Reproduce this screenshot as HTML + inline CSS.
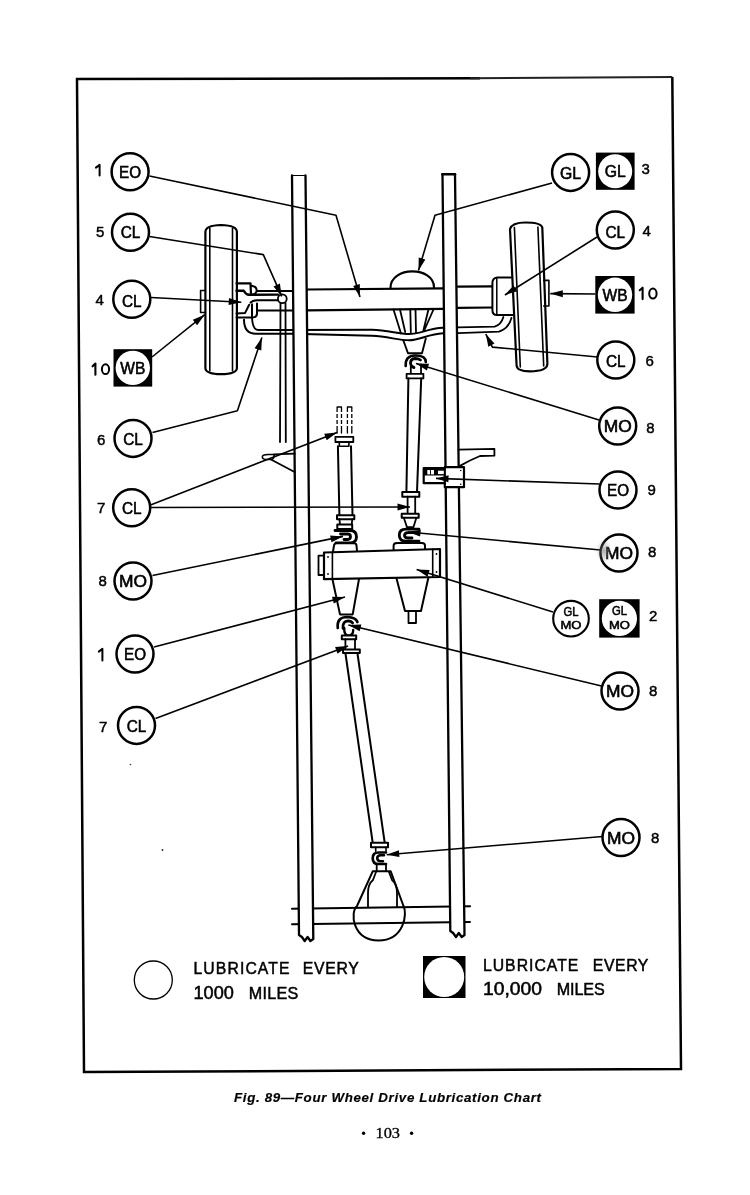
<!DOCTYPE html>
<html><head><meta charset="utf-8"><title>Four Wheel Drive Lubrication Chart</title>
<style>
html,body{margin:0;padding:0;background:#fff;}
body{width:750px;height:1195px;overflow:hidden;position:relative;}
svg{position:absolute;left:0;top:0;filter:grayscale(1);}
</style></head><body>
<svg width="750" height="1195" viewBox="0 0 750 1195" font-family="Liberation Sans, sans-serif">
<path d="M672.3,77 L681,1069 L84,1072 L77,79 L480,78.2" fill="none" stroke="#000" stroke-width="2.5"/>
<path d="M470,78.2 L672.3,77" fill="none" stroke="#222" stroke-width="2"/>
<text x="234" y="1101.5" font-size="13.3" font-weight="bold" font-style="italic" textLength="307" lengthAdjust="spacing" stroke="#000" stroke-width="0.2">Fig. 89—Four Wheel Drive Lubrication Chart</text>
<circle cx="363.6" cy="1133.2" r="1.7" fill="#000"/>
<text x="375.5" y="1138" font-family="Liberation Serif, serif" font-size="14" textLength="24.5" lengthAdjust="spacingAndGlyphs" stroke="#000" stroke-width="0.3">103</text>
<circle cx="411.6" cy="1133.2" r="1.7" fill="#000"/>
<g fill="#000">
<circle cx="153.3" cy="980" r="19" fill="none" stroke="#000" stroke-width="1.3"/>
<text transform="translate(193.5,974) scale(0.95,1)" x="0" y="0" font-size="16.6" textLength="101.1" lengthAdjust="spacing" stroke="#000" stroke-width="0.5">LUBRICATE</text>
<text transform="translate(302.8,974) scale(0.95,1)" x="0" y="0" font-size="16.6" textLength="58.9" lengthAdjust="spacing" stroke="#000" stroke-width="0.5">EVERY</text>
<text x="193.5" y="998.6" font-size="17.5" textLength="40.3" lengthAdjust="spacingAndGlyphs" stroke="#000" stroke-width="0.5">1000</text>
<text transform="translate(248.7,998.6) scale(0.95,1)" x="0" y="0" font-size="17" textLength="52.3" lengthAdjust="spacing" stroke="#000" stroke-width="0.5">MILES</text>
<rect x="423" y="956" width="42.5" height="42" fill="#000"/>
<circle cx="444.2" cy="977" r="20" fill="#fff"/>
<text transform="translate(482.9,970.6) scale(0.95,1)" x="0" y="0" font-size="16.6" textLength="100.5" lengthAdjust="spacing" stroke="#000" stroke-width="0.5">LUBRICATE</text>
<text transform="translate(592.8,970.6) scale(0.95,1)" x="0" y="0" font-size="16.6" textLength="58.5" lengthAdjust="spacing" stroke="#000" stroke-width="0.5">EVERY</text>
<text x="483" y="995.2" font-size="17.5" textLength="59.0" lengthAdjust="spacingAndGlyphs" stroke="#000" stroke-width="0.5">10,000</text>
<text transform="translate(556.8,995.2) scale(0.95,1)" x="0" y="0" font-size="17" textLength="50.5" lengthAdjust="spacing" stroke="#000" stroke-width="0.5">MILES</text>
</g>
<path d="M292,908.7 L470,906.3" fill="none" stroke="#000" stroke-width="2.1" stroke-linejoin="round" stroke-linecap="round"/>
<path d="M292,924.3 L470,922" fill="none" stroke="#000" stroke-width="1.9" stroke-linejoin="round" stroke-linecap="round"/>
<path d="M378.5,940.5 C352,940 350,912 357,906 L372.7,871.3 L390.7,871.3 L403.5,906 C407.5,913 404.5,940.5 378.5,940.5 Z" fill="none" stroke="#000" stroke-width="2" stroke-linejoin="round" stroke-linecap="round"/>
<path d="M368,907 L368,893 Q368,884 373,880 L376,872 M397,907 L397,893 Q397,884 392,880 L389,872" fill="none" stroke="#000" stroke-width="1.8" stroke-linejoin="round" stroke-linecap="round"/>
<path d="M307,289.5 L443,288.3 M307,310.4 L443,308.9" fill="none" stroke="#000" stroke-width="2.2" stroke-linejoin="round" stroke-linecap="round"/>
<path d="M458,286.7 L492,286.3 M458,307.8 L492,307.5" fill="none" stroke="#000" stroke-width="2.2" stroke-linejoin="round" stroke-linecap="round"/>
<path d="M390.5,288 C390.5,266 434,266 434,287.5" fill="none" stroke="#000" stroke-width="2.2" stroke-linejoin="round" stroke-linecap="round"/>
<path d="M393.5,309.5 L401,333.5 M433.7,309 L424,331 M400,309.5 L405.2,332 M410.3,309.5 L410.8,332.2 M415.5,309.5 L416,332.2 M428.5,309.3 L423.4,330.5" fill="none" stroke="#000" stroke-width="1.8" stroke-linejoin="round" stroke-linecap="round"/>
<path d="M293,330 L372,329.8 C388,330 398,334 409,334 C420,334 428,328.5 443,327.8" fill="none" stroke="#000" stroke-width="1.9" stroke-linejoin="round" stroke-linecap="round"/>
<path d="M293,333.8 L372,335.8 C388,336.5 398,340.3 409,340.3 C420,340.3 428,334 443,333.3" fill="none" stroke="#000" stroke-width="1.9" stroke-linejoin="round" stroke-linecap="round"/>
<path d="M458,327.3 L494.6,326.6 Q501,325 503.4,317" fill="none" stroke="#000" stroke-width="1.8" stroke-linejoin="round" stroke-linecap="round"/>
<path d="M458,333.2 L499,331.7 Q509,328 511.5,317.8" fill="none" stroke="#000" stroke-width="1.8" stroke-linejoin="round" stroke-linecap="round"/>
<path d="M403.3,340.2 L408,353.2 L422,353.2 L425.8,338.6" fill="none" stroke="#000" stroke-width="1.9" stroke-linejoin="round" stroke-linecap="round"/>
<path d="M405.7,366 Q405,355.5 415.5,355.5 Q425.8,355.5 425.8,362" fill="none" stroke="#000" stroke-width="2.6" stroke-linejoin="round" stroke-linecap="round"/>
<path d="M420.5,360 Q418.5,358.5 415,358.5 Q410.5,359 410.5,363 Q410.8,367 414,367.5" fill="none" stroke="#000" stroke-width="2.8" stroke-linejoin="round" stroke-linecap="round"/>
<path d="M410.8,366 L410.8,373.8 M421,364.5 L421,373.8" fill="none" stroke="#000" stroke-width="1.8" stroke-linejoin="round" stroke-linecap="round"/>
<path d="M406.6,373.8 L423.4,373.8 L423.4,378.4 L406.6,378.4 Z" fill="#fff" stroke="#000" stroke-width="1.8" stroke-linejoin="round" stroke-linecap="round"/>
<path d="M205.4,232 Q205.4,225.3 221,225 Q236.9,225.3 236.9,232 L236.9,368 Q236.9,374 221,374.2 Q205.4,374 205.4,368 Z" fill="#fff" stroke="#000" stroke-width="2.2" stroke-linejoin="round" stroke-linecap="round"/>
<path d="M209.8,228 L209.8,371 M232.5,228 L232.5,371" fill="none" stroke="#000" stroke-width="1.6" stroke-linejoin="round" stroke-linecap="round"/>
<path d="M205.4,290.5 L200.6,290.5 L200.6,312.5 L205.4,312.5" fill="none" stroke="#000" stroke-width="1.6" stroke-linejoin="round" stroke-linecap="round"/>
<path d="M236.5,283.4 L250.5,283.4 L251,294.8" fill="none" stroke="#000" stroke-width="2.2" stroke-linejoin="round" stroke-linecap="round"/>
<path d="M251.5,285.7 Q256.7,286.5 256.7,290.5 Q256.5,294 251.5,294.8" fill="none" stroke="#000" stroke-width="2" stroke-linejoin="round" stroke-linecap="round"/>
<path d="M236.5,290.7 L243.8,290.7 Q246,294.8 249,294.8 L278,294.6" fill="none" stroke="#000" stroke-width="2.4" stroke-linejoin="round" stroke-linecap="round"/>
<path d="M257,291 L293,291" fill="none" stroke="#000" stroke-width="2" stroke-linejoin="round" stroke-linecap="round"/>
<path d="M250.6,302.5 Q253,300.2 257.4,300.2 L278,300.2" fill="none" stroke="#000" stroke-width="2" stroke-linejoin="round" stroke-linecap="round"/>
<path d="M249.2,304.7 L245.1,312.9 L236.5,313.4" fill="none" stroke="#000" stroke-width="2" stroke-linejoin="round" stroke-linecap="round"/>
<path d="M252,304.3 L252,317.5 M257,303.4 L257,313.5 Q257,317 253,317.5" fill="none" stroke="#000" stroke-width="2" stroke-linejoin="round" stroke-linecap="round"/>
<path d="M257.4,310.6 L293,310.6" fill="none" stroke="#000" stroke-width="2" stroke-linejoin="round" stroke-linecap="round"/>
<path d="M236.5,317.5 L252,317.5 Q252.5,329.5 258,330 L293,330" fill="none" stroke="#000" stroke-width="1.9" stroke-linejoin="round" stroke-linecap="round"/>
<path d="M244,319.8 Q244,333.8 256,333.8 L293,333.8" fill="none" stroke="#000" stroke-width="2" stroke-linejoin="round" stroke-linecap="round"/>
<circle cx="282.3" cy="298.8" r="4.4" fill="#fff" stroke="#000" stroke-width="1.8"/>
<path d="M280.5,303 L280,442 M285.5,303 L285.8,442" fill="none" stroke="#000" stroke-width="1.8" stroke-linejoin="round" stroke-linecap="round"/>
<path d="M513,277.5 L497,277.5 Q492.4,278 492.4,283 L492.4,310 Q492.4,315 497,315 L513,315" fill="#fff" stroke="#000" stroke-width="2" stroke-linejoin="round" stroke-linecap="round"/>
<path d="M496.8,278 L496.8,314.5" fill="none" stroke="#000" stroke-width="1.5" stroke-linejoin="round" stroke-linecap="round"/>
<path d="M510,229 Q512,222.5 525.4,222.5 Q541,222.5 542.3,227.6 L547.4,364 Q547,371.3 529.8,371.3 Q517,371.3 516.6,365.5 Z" fill="#fff" stroke="#000" stroke-width="2.2" stroke-linejoin="round" stroke-linecap="round"/>
<path d="M514.4,227.6 L520.3,367 M537.9,227 L543.7,366" fill="none" stroke="#000" stroke-width="1.6" stroke-linejoin="round" stroke-linecap="round"/>
<path d="M543.7,280.4 L548.9,280.4 L548.9,306 L543.7,306" fill="none" stroke="#000" stroke-width="1.6" stroke-linejoin="round" stroke-linecap="round"/>
<path d="M299,935 L292,175.5 L305.5,175.5 L313.3,939 L313.3,939 L310.4,941 L307.6,937 L304.7,941 L301.9,937 L299.0,935 Z" fill="#fff" stroke="#000" stroke-width="0" stroke-linejoin="round" stroke-linecap="round"/>
<path d="M299,935 L292,175.5 M305.5,175.5 L313.3,939 L313.3,939 L310.4,941 L307.6,937 L304.7,941 L301.9,937 L299.0,935" fill="none" stroke="#000" stroke-width="2.3" stroke-linejoin="round" stroke-linecap="round"/>
<path d="M292,175.5 L305.5,175.5" fill="none" stroke="#000" stroke-width="1.2" stroke-linejoin="round" stroke-linecap="round"/>
<path d="M450.3,931 L442.5,174.2 L455,174.2 L464.5,935 L464.5,935 L461.7,937 L458.8,933 L456.0,937 L453.1,933 L450.3,931 Z" fill="#fff" stroke="#000" stroke-width="0" stroke-linejoin="round" stroke-linecap="round"/>
<path d="M450.3,931 L442.5,174.2 M455,174.2 L464.5,935 L464.5,935 L461.7,937 L458.8,933 L456.0,937 L453.1,933 L450.3,931" fill="none" stroke="#000" stroke-width="2.3" stroke-linejoin="round" stroke-linecap="round"/>
<path d="M442.5,174.2 L455,174.2" fill="none" stroke="#000" stroke-width="2.6" stroke-linejoin="round" stroke-linecap="round"/>
<path d="M274,454.4 L294.6,453.7 M271,459.5 L294.6,472" fill="none" stroke="#000" stroke-width="1.8" stroke-linejoin="round" stroke-linecap="round"/>
<path d="M262.3,456.9 Q262.3,454.4 268,454.4 L274,454.4 Q275,457 272,459.5 L268,459.5 Q262.3,459.5 262.3,456.9 Z" fill="none" stroke="#000" stroke-width="1.5" stroke-linejoin="round" stroke-linecap="round"/>
<path d="M458.4,449.6 L494.4,448.8 L494.4,455.7 L480,456 Q470,460 459,466.4" fill="none" stroke="#000" stroke-width="1.8" stroke-linejoin="round" stroke-linecap="round"/>
<path d="M444.8,467.2 L464,467.2 L464,487.2 L444.8,487.2 Z" fill="#fff" stroke="#000" stroke-width="2.2" stroke-linejoin="round" stroke-linecap="round"/>
<circle cx="460.7" cy="470.5" r="0.8"/><circle cx="460.7" cy="484.3" r="0.8"/>
<path d="M444.8,468 L423.7,468 L423.7,483.2 L444.8,483.2" fill="none" stroke="#000" stroke-width="2.2" stroke-linejoin="round" stroke-linecap="round"/>
<rect x="423.7" y="467.5" width="21" height="8" fill="#000"/>
<rect x="427.3" y="470" width="2.8" height="4.4" fill="#fff"/><rect x="431" y="470" width="3" height="4.4" fill="#fff"/><rect x="438" y="470.7" width="5.8" height="3.4" fill="#fff"/>
<path d="M408.4,378.4 L406.4,492 M421.2,378.4 L417,492" fill="none" stroke="#000" stroke-width="2" stroke-linejoin="round" stroke-linecap="round"/>
<path d="M402.3,492 L419.3,492 L419.3,496.7 L402.3,496.7 Z" fill="#fff" stroke="#000" stroke-width="2" stroke-linejoin="round" stroke-linecap="round"/>
<path d="M407.6,496.7 L407.6,513.7 M415.2,496.7 L415.2,513.7" fill="none" stroke="#000" stroke-width="1.8" stroke-linejoin="round" stroke-linecap="round"/>
<path d="M401.7,513.7 L418.7,513.7 L418.7,517.8 L401.7,517.8 Z" fill="#fff" stroke="#000" stroke-width="2" stroke-linejoin="round" stroke-linecap="round"/>
<path d="M403.8,517.8 L407,527.2 L413.4,527.2 L416.4,517.8" fill="none" stroke="#000" stroke-width="1.8" stroke-linejoin="round" stroke-linecap="round"/>
<path d="M419,529.2 L406,529.2 Q399.3,529.2 399.3,535.2 Q399.3,541.2 406,541.2 L419,541.2" fill="none" stroke="#000" stroke-width="2.8" stroke-linejoin="round" stroke-linecap="round"/>
<path d="M416,532.7 L408,532.7 Q404.5,532.9 404.5,535.4 Q404.7,538 408,538 L412,538" fill="none" stroke="#000" stroke-width="2.8" stroke-linejoin="round" stroke-linecap="round"/>
<path d="M393.6,550.6 L393.6,545.5 Q393.8,543 397,543 L422,543 Q425,543 425,545.5 L425,550" fill="#fff" stroke="#000" stroke-width="2" stroke-linejoin="round" stroke-linecap="round"/>
<path d="M337.1,433 L337.1,407 L341.5,407 L341.5,433 M347.4,433 L347.4,407 L351.8,407 L351.8,433" fill="none" stroke="#000" stroke-width="1.3" stroke-linejoin="round" stroke-linecap="round"/>
<rect x="336" y="412" width="17" height="2" fill="#fff"/>
<rect x="336" y="418" width="17" height="2" fill="#fff"/>
<rect x="336" y="424" width="17" height="2" fill="#fff"/>
<path d="M335.4,436.8 L353.3,436.8 L353.3,442 L335.4,442 Z" fill="#fff" stroke="#000" stroke-width="1.8" stroke-linejoin="round" stroke-linecap="round"/>
<path d="M339.3,442 L339.3,446.3 L348.9,446.3 L348.9,442" fill="none" stroke="#000" stroke-width="1.6" stroke-linejoin="round" stroke-linecap="round"/>
<path d="M337.9,446.3 L339.4,515.2 M351,446.3 L352.5,515.2" fill="none" stroke="#000" stroke-width="2" stroke-linejoin="round" stroke-linecap="round"/>
<path d="M337,515.2 L354.3,515.2 L354.3,519.2 L337,519.2 Z" fill="#fff" stroke="#000" stroke-width="2" stroke-linejoin="round" stroke-linecap="round"/>
<path d="M339.4,519.2 L340,524.5 M352.2,519.2 L351.8,524.5" fill="none" stroke="#000" stroke-width="1.8" stroke-linejoin="round" stroke-linecap="round"/>
<path d="M337.3,524.5 L352.2,524.5 L352.2,529 L337.3,529 Z" fill="#fff" stroke="#000" stroke-width="2" stroke-linejoin="round" stroke-linecap="round"/>
<path d="M335,530.5 L350,530.5 Q356.5,530.5 356.5,536.8 Q356.5,543 350,543 L336,543" fill="none" stroke="#000" stroke-width="2.8" stroke-linejoin="round" stroke-linecap="round"/>
<path d="M340.5,534 L347.5,534 Q350.5,534 350.5,536.8 Q350.5,539.5 347.5,539.5 L344,539.5" fill="none" stroke="#000" stroke-width="2.8" stroke-linejoin="round" stroke-linecap="round"/>
<path d="M333,551.5 L334,545.5 Q334.3,543.2 337,543.2 L354,543.2 Q356.2,543.2 356.5,545.5 L357,551" fill="#fff" stroke="#000" stroke-width="2" stroke-linejoin="round" stroke-linecap="round"/>
<path d="M324,552.5 L440,549 L440,577 L324,579.2 Z" fill="#fff" stroke="#000" stroke-width="2.2" stroke-linejoin="round" stroke-linecap="round"/>
<path d="M324,555.7 L318.5,555.7 L318.5,575 L324,575" fill="none" stroke="#000" stroke-width="1.8" stroke-linejoin="round" stroke-linecap="round"/>
<path d="M332.4,552.3 L332.4,579" fill="none" stroke="#000" stroke-width="1.6" stroke-linejoin="round" stroke-linecap="round"/>
<path d="M432.7,549.3 L432.7,577" fill="none" stroke="#000" stroke-width="1.6" stroke-linejoin="round" stroke-linecap="round"/>
<circle cx="328" cy="557" r="0.9"/><circle cx="328" cy="574" r="0.9"/><circle cx="436.5" cy="554" r="0.9"/><circle cx="436.5" cy="572" r="0.9"/>
<path d="M332.4,579 L340,614.4 L352.7,614.4 L359,579" fill="none" stroke="#000" stroke-width="2" stroke-linejoin="round" stroke-linecap="round"/>
<path d="M396.4,578 L405,611 L421,611 L428.4,577.5" fill="none" stroke="#000" stroke-width="2" stroke-linejoin="round" stroke-linecap="round"/>
<path d="M408.5,611 L408.5,623 L416,623 L416,611" fill="none" stroke="#000" stroke-width="1.8" stroke-linejoin="round" stroke-linecap="round"/>
<path d="M337.8,628 Q336.5,617 347.5,617 Q356,617.5 357.4,622" fill="none" stroke="#000" stroke-width="2.7" stroke-linejoin="round" stroke-linecap="round"/>
<path d="M343,628.5 Q342.5,621 348,620.8 Q351.5,621 352.6,623" fill="none" stroke="#000" stroke-width="2.7" stroke-linejoin="round" stroke-linecap="round"/>
<path d="M344.2,628 Q344,635.6 348.5,635.6 Q353.2,635.6 353.2,630" fill="none" stroke="#000" stroke-width="2.4" stroke-linejoin="round" stroke-linecap="round"/>
<path d="M341.8,635.6 L356.2,635.6 L356.2,639.2 L341.8,639.2 Z" fill="#fff" stroke="#000" stroke-width="2" stroke-linejoin="round" stroke-linecap="round"/>
<path d="M345.4,639.2 L345.4,649.4 M355,639.2 L355,649.4" fill="none" stroke="#000" stroke-width="1.8" stroke-linejoin="round" stroke-linecap="round"/>
<path d="M343,649.4 L359.8,649.4 L359.8,653 L343,653 Z" fill="#fff" stroke="#000" stroke-width="2" stroke-linejoin="round" stroke-linecap="round"/>
<path d="M345.4,653 L372.7,842.7 M357.4,653 L384.7,842.7" fill="none" stroke="#000" stroke-width="2" stroke-linejoin="round" stroke-linecap="round"/>
<path d="M371,842.7 L388,842.7 L388,847.3 L371,847.3 Z" fill="#fff" stroke="#000" stroke-width="2" stroke-linejoin="round" stroke-linecap="round"/>
<path d="M375.7,847.3 L375.7,851.3 M386,847.3 L386,851.3" fill="none" stroke="#000" stroke-width="1.6" stroke-linejoin="round" stroke-linecap="round"/>
<path d="M386,852.5 L378.5,852.5 Q372.7,852.5 372.7,858.2 Q372.7,864 378.5,864 L386,864" fill="none" stroke="#000" stroke-width="2.7" stroke-linejoin="round" stroke-linecap="round"/>
<path d="M384,855.3 L380.5,855.3 Q377.2,855.5 377.2,858.2 Q377.4,861.2 380.5,861.2 L383,861.2" fill="none" stroke="#000" stroke-width="2.5" stroke-linejoin="round" stroke-linecap="round"/>
<path d="M376.7,864.7 L376.7,871 M386,864.7 L386,871" fill="none" stroke="#000" stroke-width="1.8" stroke-linejoin="round" stroke-linecap="round"/>
<path d="M149.5,176 L336,215.3 L360,297" fill="none" stroke="#000" stroke-width="1.6" stroke-linejoin="round"/>
<path d="M360.0,297.0 L353.1,286.0 L359.8,284.0 Z" fill="#000"/>
<path d="M149.5,236.5 L263.3,254.6 L281.7,296.4" fill="none" stroke="#000" stroke-width="1.6" stroke-linejoin="round"/>
<path d="M281.7,296.4 L273.5,286.4 L279.9,283.5 Z" fill="#000"/>
<path d="M151,297.5 L241.3,302.3" fill="none" stroke="#000" stroke-width="1.6" stroke-linejoin="round"/>
<path d="M241.3,302.3 L228.6,305.1 L229.0,298.1 Z" fill="#000"/>
<path d="M152,357 L204.7,314.7" fill="none" stroke="#000" stroke-width="1.6" stroke-linejoin="round"/>
<path d="M204.7,314.7 L197.1,325.3 L192.8,319.8 Z" fill="#000"/>
<path d="M152.5,432.5 L237.4,410.7 L261.9,337.5" fill="none" stroke="#000" stroke-width="1.6" stroke-linejoin="round"/>
<path d="M261.9,337.5 L261.3,350.5 L254.6,348.2 Z" fill="#000"/>
<path d="M150.5,505 L337.1,432.4" fill="none" stroke="#000" stroke-width="1.6" stroke-linejoin="round"/>
<path d="M337.1,432.4 L326.7,440.2 L324.2,433.7 Z" fill="#000"/>
<path d="M150.5,507.5 L410,507" fill="none" stroke="#000" stroke-width="1.6" stroke-linejoin="round"/>
<path d="M410.0,507.0 L397.5,510.5 L397.5,503.5 Z" fill="#000"/>
<path d="M152.5,575.5 L343,536.4" fill="none" stroke="#000" stroke-width="1.6" stroke-linejoin="round"/>
<path d="M343.0,536.4 L331.5,542.3 L330.1,535.5 Z" fill="#000"/>
<path d="M154,647 L345,597" fill="none" stroke="#000" stroke-width="1.6" stroke-linejoin="round"/>
<path d="M345.0,597.0 L333.8,603.6 L332.0,596.8 Z" fill="#000"/>
<path d="M155.5,718.5 L348,646" fill="none" stroke="#000" stroke-width="1.6" stroke-linejoin="round"/>
<path d="M348.0,646.0 L337.5,653.7 L335.1,647.1 Z" fill="#000"/>
<path d="M552,182.9 L435,215.2 L418.5,270.5" fill="none" stroke="#000" stroke-width="1.6" stroke-linejoin="round"/>
<path d="M418.5,270.5 L418.7,257.5 L425.4,259.5 Z" fill="#000"/>
<path d="M597,237 L504.9,295" fill="none" stroke="#000" stroke-width="1.6" stroke-linejoin="round"/>
<path d="M504.9,295.0 L513.6,285.4 L517.3,291.3 Z" fill="#000"/>
<path d="M595.3,294 L550.3,293.6" fill="none" stroke="#000" stroke-width="1.6" stroke-linejoin="round"/>
<path d="M550.3,293.6 L562.8,290.2 L562.8,297.2 Z" fill="#000"/>
<path d="M597.5,357 L492.4,347.1 L485.8,334" fill="none" stroke="#000" stroke-width="1.6" stroke-linejoin="round"/>
<path d="M485.8,334.0 L494.5,343.6 L488.3,346.7 Z" fill="#000"/>
<path d="M599,420 L416,363.5" fill="none" stroke="#000" stroke-width="1.6" stroke-linejoin="round"/>
<path d="M416.0,363.5 L429.0,363.8 L426.9,370.5 Z" fill="#000"/>
<path d="M599.5,484 L436,478.4" fill="none" stroke="#000" stroke-width="1.6" stroke-linejoin="round"/>
<path d="M436.0,478.4 L448.6,475.3 L448.4,482.3 Z" fill="#000"/>
<path d="M600.5,550 L408,532" fill="none" stroke="#000" stroke-width="1.6" stroke-linejoin="round"/>
<path d="M408.0,532.0 L420.8,529.7 L420.1,536.6 Z" fill="#000"/>
<path d="M553,612 L416.6,569.6" fill="none" stroke="#000" stroke-width="1.6" stroke-linejoin="round"/>
<path d="M416.6,569.6 L429.6,570.0 L427.5,576.7 Z" fill="#000"/>
<path d="M601.5,686 L348.4,625" fill="none" stroke="#000" stroke-width="1.6" stroke-linejoin="round"/>
<path d="M348.4,625.0 L361.4,624.5 L359.7,631.3 Z" fill="#000"/>
<path d="M602.5,836.5 L386.7,854.7" fill="none" stroke="#000" stroke-width="1.6" stroke-linejoin="round"/>
<path d="M386.7,854.7 L398.9,850.2 L399.4,857.1 Z" fill="#000"/>
<circle cx="130.5" cy="764.5" r="0.8" fill="#333"/><circle cx="162.5" cy="850" r="0.9" fill="#222"/>
<circle cx="130.1" cy="171.8" r="18.5" fill="#fff" stroke="#000" stroke-width="2.5"/>
<text x="130.1" y="178.0" font-size="16.5" text-anchor="middle" textLength="22" lengthAdjust="spacingAndGlyphs" stroke="#000" stroke-width="0.6">EO</text>
<path d="M95.9,167.6 L99.6,164.9 L99.6,175.6" fill="none" stroke="#000" stroke-width="2" stroke-linejoin="round" stroke-linecap="round"/>
<circle cx="130.5" cy="232.2" r="18.5" fill="#fff" stroke="#000" stroke-width="2.5"/>
<text x="130.5" y="238.39999999999998" font-size="16.5" text-anchor="middle" textLength="19.6" lengthAdjust="spacingAndGlyphs" stroke="#000" stroke-width="0.6">CL</text>
<text x="96" y="237.2" font-size="15" stroke="#000" stroke-width="0.45">5</text>
<circle cx="131.8" cy="299.2" r="18.5" fill="#fff" stroke="#000" stroke-width="2.5"/>
<text x="131.8" y="307.0" font-size="16.5" text-anchor="middle" textLength="19.6" lengthAdjust="spacingAndGlyphs" stroke="#000" stroke-width="0.6">CL</text>
<text x="95.5" y="305" font-size="15" stroke="#000" stroke-width="0.45">4</text>
<rect x="113.5" y="349.2" width="38.7" height="37.4" fill="#000"/>
<circle cx="132.8" cy="367.9" r="17.2" fill="#fff"/>
<text x="132.8" y="374.1" font-size="16.5" text-anchor="middle" textLength="25" lengthAdjust="spacingAndGlyphs" stroke="#000" stroke-width="0.6">WB</text>
<path d="M92.6,366.3 L95.4,363.6 L95.4,374.8" fill="none" stroke="#000" stroke-width="2.1" stroke-linejoin="round" stroke-linecap="round"/>
<ellipse cx="105.5" cy="369.2" rx="3.6" ry="4.9" fill="none" stroke="#000" stroke-width="2"/>
<circle cx="133" cy="438.4" r="18.5" fill="#fff" stroke="#000" stroke-width="2.5"/>
<text x="133" y="444.59999999999997" font-size="16.5" text-anchor="middle" textLength="19.6" lengthAdjust="spacingAndGlyphs" stroke="#000" stroke-width="0.6">CL</text>
<text x="97" y="445.2" font-size="15" stroke="#000" stroke-width="0.45">6</text>
<circle cx="131.7" cy="507.7" r="18.5" fill="#fff" stroke="#000" stroke-width="2.5"/>
<text x="131.7" y="513.9" font-size="16.5" text-anchor="middle" textLength="19.6" lengthAdjust="spacingAndGlyphs" stroke="#000" stroke-width="0.6">CL</text>
<text x="97" y="513.2" font-size="15" stroke="#000" stroke-width="0.45">7</text>
<circle cx="133" cy="581" r="18.5" fill="#fff" stroke="#000" stroke-width="2.5"/>
<text x="133" y="587.2" font-size="16.5" text-anchor="middle" textLength="28" lengthAdjust="spacingAndGlyphs" stroke="#000" stroke-width="0.6">MO</text>
<text x="98.5" y="585.8" font-size="15" stroke="#000" stroke-width="0.45">8</text>
<circle cx="135" cy="654" r="18.5" fill="#fff" stroke="#000" stroke-width="2.5"/>
<text x="135" y="660.2" font-size="16.5" text-anchor="middle" textLength="22" lengthAdjust="spacingAndGlyphs" stroke="#000" stroke-width="0.6">EO</text>
<path d="M98.8,651.6 L102.4,648.9 L102.4,660.4" fill="none" stroke="#000" stroke-width="2" stroke-linejoin="round" stroke-linecap="round"/>
<circle cx="136.5" cy="725.4" r="18.5" fill="#fff" stroke="#000" stroke-width="2.5"/>
<text x="136.5" y="731.6" font-size="16.5" text-anchor="middle" textLength="19.6" lengthAdjust="spacingAndGlyphs" stroke="#000" stroke-width="0.6">CL</text>
<text x="99" y="731.5" font-size="15" stroke="#000" stroke-width="0.45">7</text>
<circle cx="570.6" cy="172.4" r="18.5" fill="#fff" stroke="#000" stroke-width="2.5"/>
<text x="570.6" y="178.6" font-size="16.5" text-anchor="middle" textLength="21" lengthAdjust="spacingAndGlyphs" stroke="#000" stroke-width="0.6">GL</text>
<rect x="595.9" y="152.6" width="38.7" height="37.2" fill="#000"/>
<circle cx="615.2" cy="171.2" r="17.0" fill="#fff"/>
<text x="615.2" y="177.4" font-size="16.5" text-anchor="middle" textLength="21" lengthAdjust="spacingAndGlyphs" stroke="#000" stroke-width="0.6">GL</text>
<text x="641.5" y="173.7" font-size="15" stroke="#000" stroke-width="0.45">3</text>
<circle cx="615.3" cy="230" r="18.5" fill="#fff" stroke="#000" stroke-width="2.5"/>
<text x="615.3" y="237.6" font-size="16.5" text-anchor="middle" textLength="19.6" lengthAdjust="spacingAndGlyphs" stroke="#000" stroke-width="0.6">CL</text>
<text x="642.5" y="236.2" font-size="15" stroke="#000" stroke-width="0.45">4</text>
<rect x="595.3" y="276" width="39.3" height="37.6" fill="#000"/>
<circle cx="615.0" cy="294.8" r="17.2" fill="#fff"/>
<text x="615.0" y="301.0" font-size="16.5" text-anchor="middle" textLength="25" lengthAdjust="spacingAndGlyphs" stroke="#000" stroke-width="0.6">WB</text>
<path d="M639.7,290.2 L642.6,287.7 L642.6,299.1" fill="none" stroke="#000" stroke-width="2.1" stroke-linejoin="round" stroke-linecap="round"/>
<ellipse cx="652.9" cy="293.6" rx="3.7" ry="5" fill="none" stroke="#000" stroke-width="2"/>
<circle cx="615.8" cy="360" r="18.5" fill="#fff" stroke="#000" stroke-width="2.5"/>
<text x="615.8" y="367.0" font-size="16.5" text-anchor="middle" textLength="19.6" lengthAdjust="spacingAndGlyphs" stroke="#000" stroke-width="0.6">CL</text>
<text x="645.5" y="366.2" font-size="15" stroke="#000" stroke-width="0.45">6</text>
<circle cx="617.7" cy="426" r="18.5" fill="#fff" stroke="#000" stroke-width="2.5"/>
<text x="617.7" y="432.2" font-size="16.5" text-anchor="middle" textLength="28" lengthAdjust="spacingAndGlyphs" stroke="#000" stroke-width="0.6">MO</text>
<text x="646.2" y="432.8" font-size="15" stroke="#000" stroke-width="0.45">8</text>
<circle cx="618" cy="490" r="18.5" fill="#fff" stroke="#000" stroke-width="2.5"/>
<text x="618" y="496.2" font-size="16.5" text-anchor="middle" textLength="22" lengthAdjust="spacingAndGlyphs" stroke="#000" stroke-width="0.6">EO</text>
<text x="647.5" y="495.2" font-size="15" stroke="#000" stroke-width="0.45">9</text>
<defs><radialGradient id="sm"><stop offset="0" stop-color="#777" stop-opacity="0.6"/><stop offset="1" stop-color="#888" stop-opacity="0"/></radialGradient></defs>
<circle cx="619" cy="553" r="18.5" fill="#fff" stroke="#000" stroke-width="2.5"/>
<text x="619" y="559.2" font-size="16.5" text-anchor="middle" textLength="28" lengthAdjust="spacingAndGlyphs" stroke="#000" stroke-width="0.6">MO</text>
<text x="648" y="557.4" font-size="15" stroke="#000" stroke-width="0.45">8</text>
<ellipse cx="604" cy="551" rx="8" ry="12" fill="url(#sm)"/>
<circle cx="571" cy="618.7" r="17.8" fill="#fff" stroke="#000" stroke-width="2.1"/>
<text x="571" y="615.7" font-size="12" text-anchor="middle" textLength="15" lengthAdjust="spacingAndGlyphs" stroke="#000" stroke-width="0.55">GL</text>
<text x="571" y="629.2" font-size="11.5" text-anchor="middle" textLength="21" lengthAdjust="spacingAndGlyphs" stroke="#000" stroke-width="0.55">MO</text>
<rect x="599.2" y="599.2" width="40.4" height="38.4" fill="#000"/>
<circle cx="619.4" cy="618.4" r="17.6" fill="#fff"/>
<text x="619.4" y="615.4" font-size="12" text-anchor="middle" textLength="15" lengthAdjust="spacingAndGlyphs" stroke="#000" stroke-width="0.55">GL</text>
<text x="619.4" y="628.9" font-size="11.5" text-anchor="middle" textLength="21" lengthAdjust="spacingAndGlyphs" stroke="#000" stroke-width="0.55">MO</text>
<text x="649" y="620.6" font-size="15" stroke="#000" stroke-width="0.45">2</text>
<circle cx="620" cy="691" r="18.5" fill="#fff" stroke="#000" stroke-width="2.5"/>
<text x="620" y="697.2" font-size="16.5" text-anchor="middle" textLength="28" lengthAdjust="spacingAndGlyphs" stroke="#000" stroke-width="0.6">MO</text>
<text x="649" y="696.2" font-size="15" stroke="#000" stroke-width="0.45">8</text>
<circle cx="621" cy="837.5" r="18.5" fill="#fff" stroke="#000" stroke-width="2.5"/>
<text x="621" y="843.7" font-size="16.5" text-anchor="middle" textLength="28" lengthAdjust="spacingAndGlyphs" stroke="#000" stroke-width="0.6">MO</text>
<text x="651" y="843.2" font-size="15" stroke="#000" stroke-width="0.45">8</text>
</svg>
</body></html>
